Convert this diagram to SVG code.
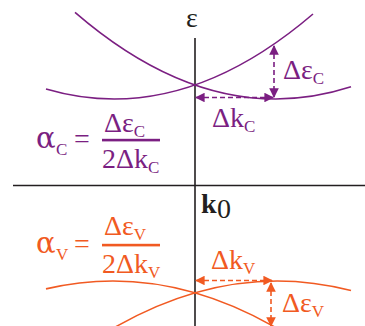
<svg xmlns="http://www.w3.org/2000/svg" width="365" height="326" viewBox="0 0 365 326">
<style>
.ax{stroke:#231f20;stroke-width:1.6;fill:none}
.c{stroke:#7b1f82;stroke-width:1.6;fill:none}
.v{stroke:#f15a22;stroke-width:1.6;fill:none}
.cd{stroke:#7b1f82;stroke-width:1.6;fill:none;stroke-dasharray:5,3}
.vd{stroke:#f15a22;stroke-width:1.6;fill:none;stroke-dasharray:5,3}
text{font-family:"Liberation Serif","Times New Roman",serif;font-size:28px}
.tc{fill:#7b1f82}
.tv{fill:#f15a22}
.tk{fill:#231f20}
.sub{font-size:17px}
.al{font-family:"DejaVu Serif",serif;font-size:29px}
</style>
<defs>
<marker id="mc" viewBox="0 0 10 10" refX="9" refY="5" markerWidth="6" markerHeight="6" orient="auto-start-reverse" markerUnits="strokeWidth"><path d="M0,0 L10,5 L0,10 z" fill="#7b1f82"/></marker>
<marker id="mv" viewBox="0 0 10 10" refX="9" refY="5" markerWidth="6" markerHeight="6" orient="auto-start-reverse" markerUnits="strokeWidth"><path d="M0,0 L10,5 L0,10 z" fill="#f15a22"/></marker>
</defs>
<g id="axes">
<line class="ax" x1="195" y1="38" x2="195" y2="326"/>
<line class="ax" x1="13" y1="185.5" x2="365" y2="185.5"/>
<text class="tk" x="186" y="27" font-size="28">ε</text>
<text class="tk" x="201" y="213" font-size="28" font-weight="bold">k</text>
<text class="tk" x="217" y="218" font-size="18">0</text>
</g>
<g id="conduction-band">
<path class="c" d="M46,89 Q179.5,128.2 313,14"/>
<path class="c" d="M75,12.3 Q213,131.5 351,86.8"/>
</g>
<g id="valence-band">
<path class="v" d="M46,288.9 Q160.5,261.9 275,327.2"/>
<path class="v" d="M115,327.2 Q233,259.9 351,290.6"/>
</g>
<g id="connectors">
<line class="cd" x1="196" y1="97.5" x2="273" y2="97.5" marker-start="url(#mc)" marker-end="url(#mc)"/>
<line class="cd" x1="274" y1="46" x2="274" y2="97" marker-start="url(#mc)" marker-end="url(#mc)"/>
<line class="vd" x1="196" y1="280.5" x2="272" y2="280.5" marker-start="url(#mv)" marker-end="url(#mv)"/>
<line class="vd" x1="271" y1="283" x2="271" y2="326" marker-start="url(#mv)" marker-end="url(#mv)"/>
</g>
<g id="label-deps-c">
<text class="tc" x="283" y="79">Δε<tspan class="sub" dy="5">C</tspan></text>
</g>
<g id="label-dk-c">
<text class="tc" x="212" y="127">Δk<tspan class="sub" dy="5">C</tspan></text>
</g>
<g id="label-dk-v">
<text class="tv" x="211" y="269">Δk<tspan class="sub" dy="5">V</tspan></text>
</g>
<g id="label-deps-v">
<text class="tv" x="282" y="312">Δε<tspan class="sub" dy="5">V</tspan></text>
</g>
<g id="formula-c">
<text class="tc al" x="36" y="148">α</text>
<text class="tc sub" x="56" y="155" font-size="18">C</text>
<text class="tc" x="74" y="148">=</text>
<text class="tc" x="104" y="132">Δε<tspan class="sub" dy="5">C</tspan></text>
<rect x="102" y="138.8" width="58" height="2.6" fill="#7b1f82"/>
<text class="tc" x="102" y="168">2Δk<tspan class="sub" dy="5">C</tspan></text>
</g>
<g id="formula-v">
<text class="tv al" x="36" y="253">α</text>
<text class="tv sub" x="56" y="260" font-size="18">V</text>
<text class="tv" x="74" y="253">=</text>
<text class="tv" x="104" y="235">Δε<tspan class="sub" dy="5">V</tspan></text>
<rect x="102" y="243.8" width="58" height="2.6" fill="#f15a22"/>
<text class="tv" x="102" y="273">2Δk<tspan class="sub" dy="5">V</tspan></text>
</g>
</svg>
